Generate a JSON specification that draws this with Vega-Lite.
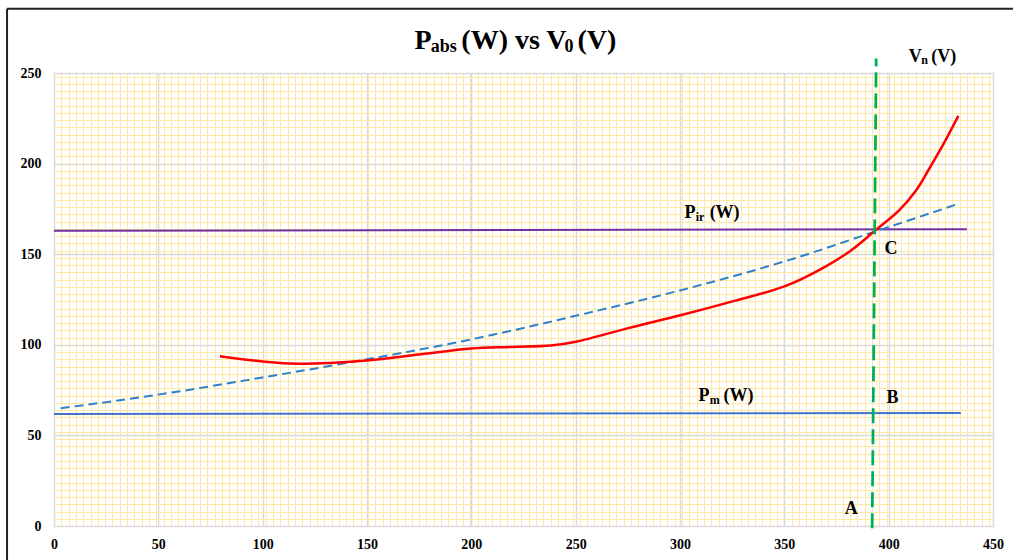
{
  "$schema": "https://vega.github.io/schema/vega-lite/v6.json",
  "autosize": {"type": "none"},
  "width": 939,
  "height": 453,
  "padding": {"left": 54, "top": 73, "right": 20, "bottom": 34},
  "background": "white",
  "config": {"view": {"stroke": null}},
  "datasets": {
    "red": [
      {"v": 79.5, "p": 93.7}, {"v": 100, "p": 90.8}, {"v": 116.9, "p": 89.6}, {"v": 150, "p": 91.4}, {"v": 175, "p": 94.6}, {"v": 199.9, "p": 97.9},
      {"v": 219.6, "p": 98.8}, {"v": 238, "p": 99.6}, {"v": 250.1, "p": 101.7}, {"v": 275.2, "p": 109.2},
      {"v": 300.2, "p": 116.3}, {"v": 326.5, "p": 124.4}, {"v": 350, "p": 132.2}, {"v": 369.3, "p": 142.9},
      {"v": 382.1, "p": 152.2}, {"v": 393.5, "p": 163}, {"v": 405.1, "p": 174.3}, {"v": 413.1, "p": 185.2},
      {"v": 419.5, "p": 197.3}, {"v": 425.9, "p": 210}, {"v": 433.4, "p": 226.3}
    ],
    "trend": [
      {"v": 3.2, "p": 65}, {"v": 50, "p": 72.5}, {"v": 100, "p": 82}, {"v": 150, "p": 92},
      {"v": 200, "p": 103}, {"v": 250, "p": 116}, {"v": 300, "p": 130}, {"v": 350, "p": 146},
      {"v": 400, "p": 165}, {"v": 433.4, "p": 177.8}
    ],
    "pir": [{"v": 0, "p": 162.9}, {"v": 437.5, "p": 163.8}],
    "pm": [{"v": 0, "p": 61.8}, {"v": 434.6, "p": 62.3}],
    "vn": [{"v": 392.1, "p": -1.3}, {"v": 394.0, "p": 258}],
    "titleMain": [
      {"x": 172.8, "y": 263.5, "t": "P"},
      {"x": 195.2, "y": 263.5, "t": "(W) vs V"},
      {"x": 250.9, "y": 263.5, "t": "(V)"}
    ],
    "titleSub": [
      {"x": 180.5, "y": 261.6, "t": "abs"},
      {"x": 244.7, "y": 261.6, "t": "0"}
    ],
    "labMain": [
      {"x": 409.6, "y": 256.1, "t": "V"},
      {"x": 420.4, "y": 256.1, "t": "(V)"},
      {"x": 302.2, "y": 170.0, "t": "P"},
      {"x": 314.2, "y": 170.0, "t": "(W)"},
      {"x": 308.9, "y": 69.0, "t": "P"},
      {"x": 320.9, "y": 69.0, "t": "(W)"},
      {"x": 398.0, "y": 150.3, "t": "C"},
      {"x": 399.0, "y": 68.1, "t": "B"},
      {"x": 378.9, "y": 6.5, "t": "A"}
    ],
    "labSub": [
      {"x": 415.6, "y": 254.8, "t": "n"},
      {"x": 307.5, "y": 168.4, "t": "ir"},
      {"x": 314.2, "y": 67.4, "t": "m"}
    ]
  },
  "resolve": {"axis": {"x": "independent", "y": "independent"}},
  "layer": [
    {
      "data": {"name": "pir"},
      "mark": {"type": "line", "color": "#7030A0", "strokeWidth": 2},
      "encoding": {
        "x": {"field": "v", "type": "quantitative", "scale": {"domain": [0, 450], "nice": false},
          "axis": {"orient": "top", "labels": false, "ticks": false, "domain": false, "title": null, "grid": true,
            "gridColor": "#FFE8A3", "gridWidth": 1,
            "values": [0,3.5,7,10.5,14,17.5,21,24.5,28,31.5,35,38.5,42,45.5,49,52.5,56,59.5,63,66.5,70,73.5,77,80.5,84,87.5,91,94.5,98,101.5,105,108.5,112,115.5,119,122.5,126,129.5,133,136.5,140,143.5,147,150.5,154,157.5,161,164.5,168,171.5,175,178.5,182,185.5,189,192.5,196,199.5,203,206.5,210,213.5,217,220.5,224,227.5,231,234.5,238,241.5,245,248.5,252,255.5,259,262.5,266,269.5,273,276.5,280,283.5,287,290.5,294,297.5,301,304.5,308,311.5,315,318.5,322,325.5,329,332.5,336,339.5,343,346.5,350,353.5,357,360.5,364,367.5,371,374.5,378,381.5,385,388.5,392,395.5,399,402.5,406,409.5,413,416.5,420,423.5,427,430.5,434,437.5,441,444.5,448]}},
        "y": {"field": "p", "type": "quantitative", "scale": {"domain": [0, 250], "nice": false},
          "axis": {"orient": "right", "labels": false, "ticks": false, "domain": false, "title": null, "grid": true,
            "gridColor": "#FFE8A3", "gridWidth": 1,
            "values": [0,4,8,12,16,20,24,28,32,36,40,44,48,52,56,60,64,68,72,76,80,84,88,92,96,100,104,108,112,116,120,124,128,132,136,140,144,148,152,156,160,164,168,172,176,180,184,188,192,196,200,204,208,212,216,220,224,228,232,236,240,244,248]}}
      }
    },
    {
      "data": {"name": "pm"},
      "mark": {"type": "line", "color": "#4472C4", "strokeWidth": 2},
      "encoding": {
        "x": {"field": "v", "type": "quantitative", "scale": {"domain": [0, 450], "nice": false},
          "axis": {"orient": "bottom", "values": [0,50,100,150,200,250,300,350,400,450], "grid": true,
            "gridColor": "#D9D9D9", "gridWidth": 1.5, "domain": false, "ticks": false, "title": null,
            "labelFont": "Liberation Serif", "labelFontWeight": "bold", "labelFontSize": 14, "labelColor": "#000000",
            "labelPadding": 11, "labelFlush": false}},
        "y": {"field": "p", "type": "quantitative", "scale": {"domain": [0, 250], "nice": false},
          "axis": {"orient": "left", "values": [0,50,100,150,200,250], "grid": true,
            "gridColor": "#D9D9D9", "gridWidth": 1.5, "domain": false, "ticks": false, "title": null,
            "labelFont": "Liberation Serif", "labelFontWeight": "bold", "labelFontSize": 14, "labelColor": "#000000",
            "labelPadding": 13, "labelFlush": false}}
      }
    },
    {
      "data": {"name": "trend"},
      "mark": {"type": "line", "color": "#2E80CC", "strokeWidth": 2, "strokeDash": [9, 5], "interpolate": "monotone"},
      "encoding": {
        "x": {"field": "v", "type": "quantitative", "axis": null},
        "y": {"field": "p", "type": "quantitative", "axis": null}
      }
    },
    {
      "data": {"name": "red"},
      "mark": {"type": "line", "color": "#FF0000", "strokeWidth": 2.5, "interpolate": "catmull-rom"},
      "encoding": {
        "x": {"field": "v", "type": "quantitative", "axis": null},
        "y": {"field": "p", "type": "quantitative", "axis": null}
      }
    },
    {
      "data": {"name": "vn"},
      "mark": {"type": "line", "color": "#00B050", "strokeWidth": 2.75, "strokeDash": [15, 6]},
      "encoding": {
        "x": {"field": "v", "type": "quantitative", "axis": null},
        "y": {"field": "p", "type": "quantitative", "axis": null}
      }
    },
    {
      "data": {"name": "titleMain"},
      "mark": {"type": "text", "align": "left", "baseline": "alphabetic", "font": "Liberation Serif", "fontWeight": "bold", "fontSize": 28, "color": "#000000"},
      "encoding": {
        "x": {"field": "x", "type": "quantitative", "axis": null},
        "y": {"field": "y", "type": "quantitative", "axis": null},
        "text": {"field": "t"}
      }
    },
    {
      "data": {"name": "titleSub"},
      "mark": {"type": "text", "align": "left", "baseline": "alphabetic", "font": "Liberation Serif", "fontWeight": "bold", "fontSize": 18, "color": "#000000"},
      "encoding": {
        "x": {"field": "x", "type": "quantitative", "axis": null},
        "y": {"field": "y", "type": "quantitative", "axis": null},
        "text": {"field": "t"}
      }
    },
    {
      "data": {"name": "labMain"},
      "mark": {"type": "text", "align": "left", "baseline": "alphabetic", "font": "Liberation Serif", "fontWeight": "bold", "fontSize": 18, "color": "#000000"},
      "encoding": {
        "x": {"field": "x", "type": "quantitative", "axis": null},
        "y": {"field": "y", "type": "quantitative", "axis": null},
        "text": {"field": "t"}
      }
    },
    {
      "data": {"name": "labSub"},
      "mark": {"type": "text", "align": "left", "baseline": "alphabetic", "font": "Liberation Serif", "fontWeight": "bold", "fontSize": 12, "color": "#000000"},
      "encoding": {
        "x": {"field": "x", "type": "quantitative", "axis": null},
        "y": {"field": "y", "type": "quantitative", "axis": null},
        "text": {"field": "t"}
      }
    },
    {
      "data": {"values": [{}]},
      "mark": {"type": "rule", "color": "#222222", "strokeWidth": 2},
      "encoding": {
        "x": {"datum": -22.5, "type": "quantitative", "axis": null},
        "y": {"datum": 285.5, "type": "quantitative", "axis": null},
        "y2": {"datum": -19}
      }
    },
    {
      "data": {"values": [{}]},
      "mark": {"type": "rule", "color": "#222222", "strokeWidth": 2},
      "encoding": {
        "x": {"datum": -22.5, "type": "quantitative", "axis": null},
        "x2": {"datum": 460},
        "y": {"datum": 285.5, "type": "quantitative", "axis": null}
      }
    }
  ]
}
